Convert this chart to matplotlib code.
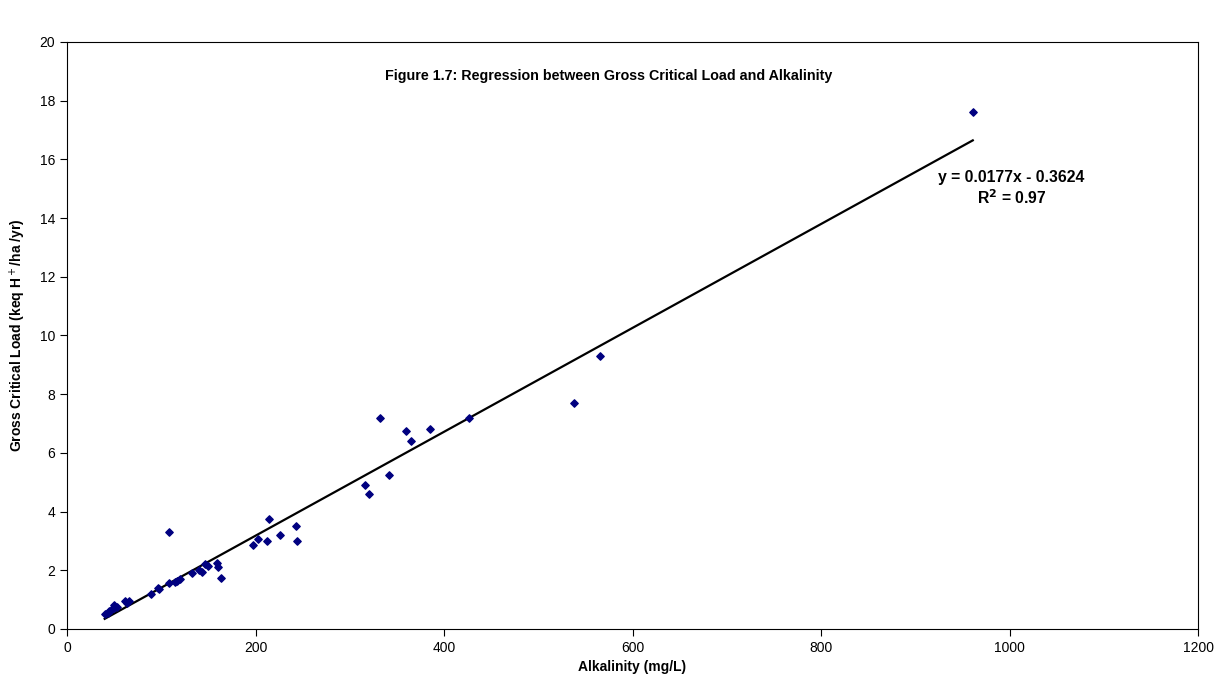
import matplotlib
matplotlib.use('Agg')
import matplotlib.pyplot as plt
import numpy as np

plt.rcParams['font.family'] = ['Liberation Sans', 'DejaVu Sans']

# data
alkalinity = [961, 565, 538, 427, 385, 360, 365, 332, 342, 316, 320,
              243, 244, 226, 214, 212, 203, 197, 108, 163, 160, 159,
              150, 146, 143, 140, 133, 120, 117, 115, 108, 97, 98, 89,
              66, 62, 64, 53, 50, 47, 45, 43, 40, 50]
crit_load = [17.6, 9.3, 7.7, 7.2, 6.8, 6.75, 6.4, 7.2, 5.25, 4.9, 4.6,
             3.5, 3.0, 3.2, 3.75, 3.0, 3.05, 2.85, 3.3, 1.75, 2.1, 2.25,
             2.15, 2.2, 1.95, 2.0, 1.9, 1.7, 1.65, 1.6, 1.55, 1.4, 1.35, 1.2,
             0.95, 0.95, 0.9, 0.75, 0.7, 0.65, 0.6, 0.55, 0.5, 0.8]
slope = 0.0177
intercept = -0.3624
fit_x = [40, 961]

fig = plt.figure(figsize=(12.27, 6.96), dpi=100)
ax = fig.add_axes([0.0546, 0.0963, 0.9218, 0.8434])

ax.scatter(alkalinity, crit_load, marker='D', s=14, color='#000080', zorder=3)
fx = np.array(fit_x)
ax.plot(fx, slope * fx + intercept, color='black', lw=1.6, zorder=2)

ax.set_xlim(0, 1200)
ax.set_ylim(0, 20)
ax.set_xticks(np.arange(0, 1201, 200))
ax.set_yticks(np.arange(0, 21, 2))
ax.tick_params(direction='out', length=5, labelsize=10)
for s in ax.spines.values():
    s.set_linewidth(0.8)

ax.set_xlabel('Alkalinity (mg/L)', fontsize=10, fontweight='bold', labelpad=4)
ax.set_ylabel('Gross Critical Load (keq H$^+$/ha /yr)', fontsize=10, fontweight='bold', labelpad=8)

# title sits inside the plot area
ax.text(575, 18.85, 'Figure 1.7: Regression between Gross Critical Load and Alkalinity',
        ha='center', va='center', fontsize=10.3, fontweight='bold')
ax.text(1002, 15.37, 'y = 0.0177x - 0.3624', ha='center', va='center', fontsize=11.3, fontweight='bold')
ax.text(1002, 14.68, 'R$^\\mathbf{2}$ = 0.97', ha='center', va='center', fontsize=11.3, fontweight='bold')

fig.savefig('out.png', dpi=100)
